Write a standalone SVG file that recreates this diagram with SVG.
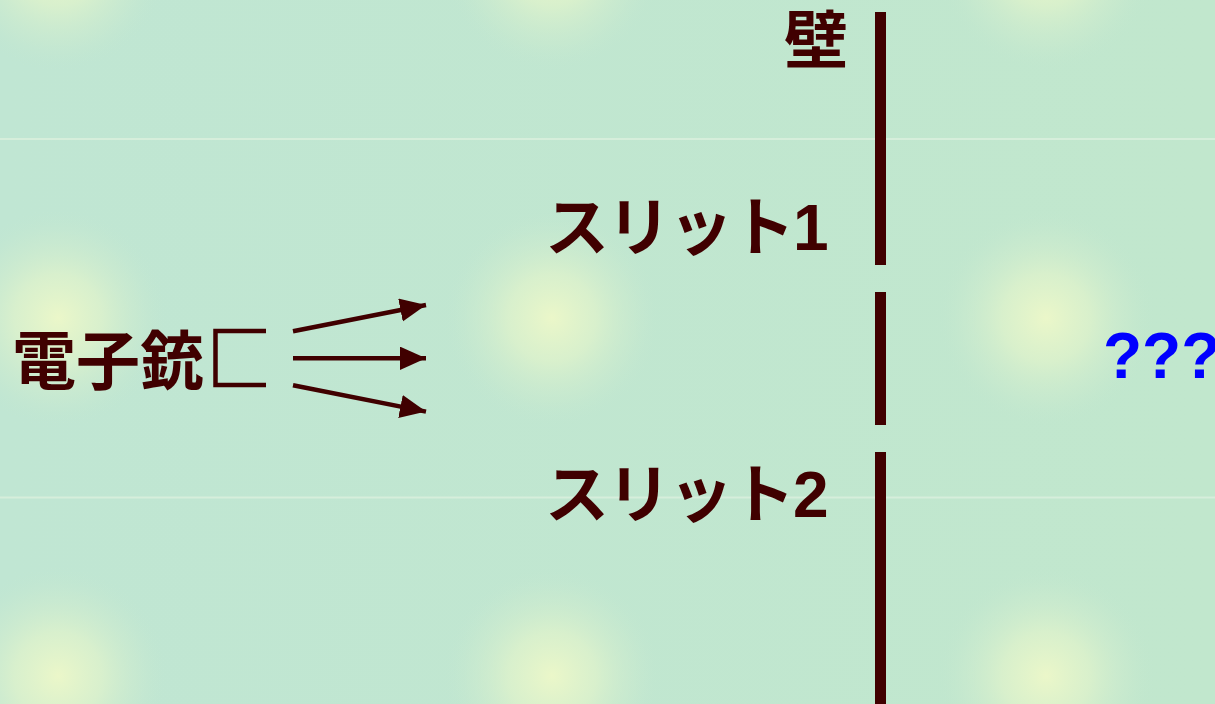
<svg xmlns="http://www.w3.org/2000/svg" width="1215" height="704" viewBox="0 0 1215 704">
  <defs>
    <radialGradient id="glow" cx="0.5" cy="0.5" r="0.5">
      <stop offset="0" stop-color="#ebf7c9" stop-opacity="1"/>
      <stop offset="0.4" stop-color="#e0f3cb" stop-opacity="0.75"/>
      <stop offset="0.75" stop-color="#d0ecce" stop-opacity="0.35"/>
      <stop offset="1" stop-color="#c1e6d0" stop-opacity="0"/>
    </radialGradient>
    <linearGradient id="bg" x1="0" y1="0" x2="1" y2="0">
      <stop offset="0" stop-color="#c0e6d3"/>
      <stop offset="1" stop-color="#c1e7cd"/>
    </linearGradient>
    <marker id="ah" markerUnits="userSpaceOnUse" markerWidth="28" markerHeight="26" refX="26" refY="11.7" orient="auto" viewBox="0 0 28 26">
      <path d="M0,0 L26,11.7 L0,23.4 Z" fill="#400000"/>
    </marker>
  </defs>
  <style>
    .lbl { font-family: "Liberation Sans", "Noto Sans CJK JP", sans-serif; font-weight: bold; font-size: 64px; fill: #400000; }
    .slit { letter-spacing: -2px; }
    .q { fill: #0000ff; }
    .wall { fill: #400000; }
    .beam { stroke: #400000; stroke-width: 4.5; fill: none; marker-end: url(#ah); }
    .glowc { fill: url(#glow); }
    .grid { stroke: #d6eedb; stroke-width: 2; }
  </style>

  <g id="background">
    <rect x="0" y="0" width="1215" height="704" fill="url(#bg)"/>
    <circle class="glowc" cx="58" cy="-38" r="110"/>
    <circle class="glowc" cx="552" cy="-38" r="110"/>
    <circle class="glowc" cx="1046" cy="-38" r="110"/>
    <circle class="glowc" cx="58" cy="318" r="110"/>
    <circle class="glowc" cx="552" cy="318" r="110"/>
    <circle class="glowc" cx="1046" cy="318" r="110"/>
    <circle class="glowc" cx="58" cy="676" r="110"/>
    <circle class="glowc" cx="552" cy="676" r="110"/>
    <circle class="glowc" cx="1046" cy="676" r="110"/>
    <line class="grid" x1="0" y1="139" x2="1215" y2="139"/>
    <line class="grid" x1="0" y1="497.5" x2="1215" y2="497.5"/>
  </g>

  <g id="electron-gun">
    <path d="M266,331 H215.5 V385 H266" fill="none" stroke="#400000" stroke-width="4.5"/>
    <text class="lbl" x="12" y="384">電子銃</text>
  </g>

  <g id="wall">
    <rect class="wall" x="875" y="12" width="11" height="253"/>
    <rect class="wall" x="875" y="292" width="11" height="133"/>
    <rect class="wall" x="875" y="452" width="11" height="252"/>
    <text class="lbl" x="784" y="63">壁</text>
  </g>

  <g id="slit1">
    <text class="lbl slit" x="545" y="250">スリット1</text>
  </g>

  <g id="slit2">
    <text class="lbl slit" x="545" y="517">スリット2</text>
  </g>

  <g id="screen-unknown">
    <text class="lbl q" x="1103" y="378">???</text>
  </g>

  <g id="connectors">
    <line class="beam" x1="293" y1="331.3" x2="426" y2="305"/>
    <line class="beam" x1="293" y1="358.3" x2="426" y2="358.3"/>
    <line class="beam" x1="293" y1="385.3" x2="426" y2="411.6"/>
  </g>
</svg>
